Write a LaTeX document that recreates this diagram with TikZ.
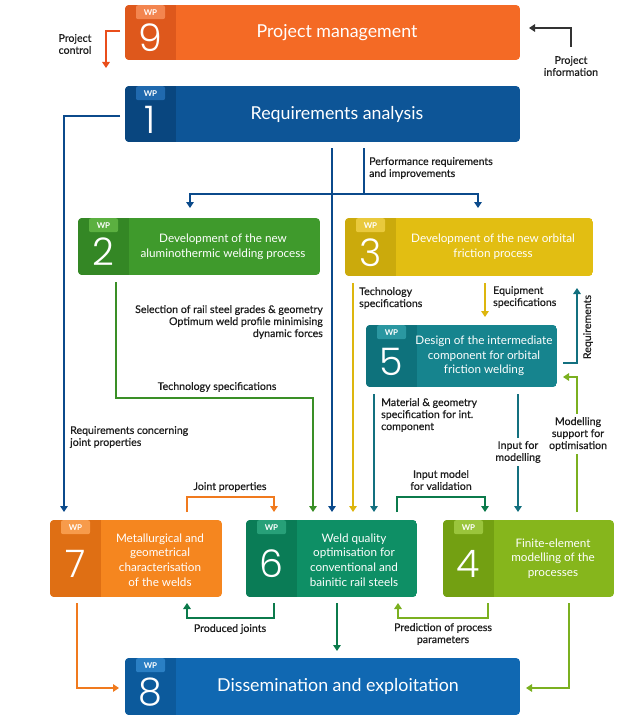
\documentclass[tikz,border=0pt]{standalone}
\usepackage{fontspec}
\setmainfont{Lato}
\newfontfamily\numfont{Poppins Light}
\newfontfamily\lblfont{Lato}[FakeBold=0.5]
\usetikzlibrary{arrows.meta}
\definecolor{m9}{HTML}{F46A25}\definecolor{s9}{HTML}{DE581C}\definecolor{t9}{HTML}{F3854F}
\definecolor{m1}{HTML}{0D5597}\definecolor{s1}{HTML}{09467F}\definecolor{t1}{HTML}{2069AE}
\definecolor{m2}{HTML}{3F9A2C}\definecolor{s2}{HTML}{348725}\definecolor{t2}{HTML}{5BB040}
\definecolor{m3}{HTML}{E2BE12}\definecolor{s3}{HTML}{CBAA0C}\definecolor{t3}{HTML}{E9C93C}
\definecolor{m5}{HTML}{16848E}\definecolor{s5}{HTML}{0E727C}\definecolor{t5}{HTML}{2A97A1}
\definecolor{m7}{HTML}{F5861F}\definecolor{s7}{HTML}{DF6F14}\definecolor{t7}{HTML}{F79B4B}
\definecolor{m6}{HTML}{0E8F65}\definecolor{s6}{HTML}{0A7C56}\definecolor{t6}{HTML}{27A078}
\definecolor{m4}{HTML}{86B61C}\definecolor{s4}{HTML}{73A012}\definecolor{t4}{HTML}{9AC53C}
\definecolor{m8}{HTML}{1068B2}\definecolor{s8}{HTML}{0C5A9C}\definecolor{t8}{HTML}{2A7FC4}
\definecolor{cred}{HTML}{E94E1B}
\definecolor{cdark}{HTML}{333333}
\definecolor{cblue}{HTML}{0B4A8B}
\definecolor{cgreen}{HTML}{3A8F26}
\definecolor{cyellow}{HTML}{DDB60E}
\definecolor{cteal}{HTML}{13707F}
\definecolor{clgreen}{HTML}{7BB020}
\definecolor{cdgreen}{HTML}{0B7A4B}
\definecolor{corange}{HTML}{F07A1E}
\definecolor{ctext}{HTML}{1E1E1E}
\tikzset{
  boxnode/.style={inner sep=0pt, outer sep=0pt},
  wptag/.style={inner sep=0pt, minimum width=29pt, minimum height=14pt, rounded corners=2pt,
    text=white, font=\fontsize{8}{8}\selectfont\bfseries, anchor=north},
  wpnum/.style={inner sep=0pt, text=white, font=\numfont\fontsize{38}{38}\selectfont},
  wptitle/.style={inner sep=0pt, text=white, font=\fontsize{17.8}{20}\selectfont},
  wptext/.style={inner sep=0pt, text=white, align=center, font=\fontsize{11.7}{14.7}\selectfont},
  lbl/.style={inner sep=0pt, text=ctext, font=\lblfont\fontsize{10.6}{12}\selectfont},
  lblw/.style={lbl, fill=white, inner sep=3pt},
  conn/.style={line width=1.8pt},
  arr/.style={conn, -{Triangle[width=7.5pt,length=6pt]}},
}
\newcommand\wpbox[9]{%
  \begin{scope}
    \clip[rounded corners=4pt] (#2,#3) rectangle ++(#4,#5);
    \fill[m#6] (#2,#3) rectangle ++(#4,#5);
    \fill[s#6] (#2,#3) rectangle ++(51,#5);
  \end{scope}
  \node[boxnode, minimum width=#4pt, minimum height=#5pt, anchor=north west] (#1) at (#2,#3) {};
  \node[wptag, fill=t#6] (#1tag) at ([xshift=25.5pt]#1.north west) {WP};
  \node[wpnum] (#1num) at ([xshift=25.5pt,yshift=-5.5pt]#1.west) {#7};
  \node[#8] (#1txt) at ([xshift=#9pt]#1.west) {\strut};
}
\begin{document}
\begin{tikzpicture}[x=1pt,y=-1pt]
\useasboundingbox (0,0) rectangle (641,717);
\fill[white] (0,0) rectangle (641,717);

% boxes
\wpbox{wp9}{125}{5}{395}{55}{9}{9}{boxnode}{212}
\node[wptitle] (wp9t) at ([xshift=212pt]wp9.west) {Project management};
\wpbox{wp1}{125}{86}{395}{56}{1}{1}{boxnode}{212}
\node[wptitle] (wp1t) at ([xshift=212pt]wp1.west) {Requirements analysis};
\wpbox{wp2}{78}{218}{242}{57}{2}{2}{boxnode}{145}
\node[wptext] (wp2t) at ([xshift=145pt,yshift=-0.5pt]wp2.west) {Development of the new\\aluminothermic welding process};
\wpbox{wp3}{345}{218}{248}{58}{3}{3}{boxnode}{148}
\node[wptext] (wp3t) at ([xshift=148pt]wp3.west) {Development of the new orbital\\friction process};
\wpbox{wp5}{366}{325}{191}{62}{5}{5}{boxnode}{118}
\node[wptext] (wp5t) at ([xshift=118pt]wp5.west) {Design of the intermediate\\component for orbital\\friction welding};
\wpbox{wp7}{50}{520}{172}{77}{7}{7}{boxnode}{110}
\node[wptext] (wp7t) at ([xshift=110pt,yshift=-1.5pt]wp7.west) {Metallurgical and\\geometrical\\characterisation\\of the welds};
\wpbox{wp6}{246}{520}{171}{77}{6}{6}{boxnode}{108}
\node[wptext] (wp6t) at ([xshift=108pt,yshift=-1.5pt]wp6.west) {Weld quality\\optimisation for\\conventional and\\bainitic rail steels};
\wpbox{wp4}{443}{520}{171}{77}{4}{4}{boxnode}{110}
\node[wptext] (wp4t) at ([xshift=110pt]wp4.west) {Finite-element\\modelling of the\\processes};
\wpbox{wp8}{125}{658}{395}{57}{8}{8}{boxnode}{213}
\node[wptitle] (wp8t) at ([xshift=213pt]wp8.west) {Dissemination and exploitation};

% free ends and bend points
\coordinate (pc) at (106,68);
\coordinate (pinfo) at (571,47);
\coordinate (split) at (364,194);
\coordinate (g1) at (200,398);
\coordinate (jp) at (230,497);
\coordinate (im) at (441,497);
\coordinate (pj) at (230,618);
\coordinate (pp) at (443,618);

% connectors
\draw[arr, cred, shorten <=5pt] (wp9.west |- 0,31) -| (pc);
\draw[arr, cdark, shorten >=9pt] (pinfo) |- (wp9.east |- 0,28);
\draw[arr, cblue, shorten <=5pt, shorten >=8pt] (wp1.west |- 0,116) -| (wp7.north -| 64,0);
\draw[arr, cblue, shorten <=6pt, shorten >=8pt] (wp1.south -| 332,0) -- (wp6.north -| 332,0);
\draw[conn, cblue, shorten <=6pt] (wp1.south -| 364,0) -- (split);
\draw[arr, cblue, shorten >=10pt] (split) -| (wp2.north -| 190,0);
\draw[arr, cblue, shorten >=10pt] (split) -| (wp3.north -| 478,0);
\draw[arr, cgreen, shorten <=7pt, shorten >=8pt] (wp2.south -| 116,0) |- (g1) -| (wp6.north -| 313,0);
\draw[arr, cyellow, shorten <=7pt, shorten >=8pt] (wp3.south -| 353,0) -- (wp6.north -| 353,0);
\draw[arr, cyellow, shorten <=7pt, shorten >=8pt] (wp3.south -| 485,0) -- (wp5.north -| 485,0);
\draw[arr, cteal, shorten <=6pt, shorten >=12pt] (wp5.east |- 0,363) -| (wp3.south -| 577,0);
\draw[arr, clgreen, shorten <=8pt, shorten >=6pt] (wp4.north -| 577,0) |- (wp5.east |- 0,377);
\draw[arr, cteal, shorten <=7pt, shorten >=8pt] (wp5.south -| 374,0) -- (wp6.north -| 374,0);
\draw[arr, cteal, shorten <=7pt, shorten >=8pt] (wp5.south -| 518,0) -- (wp4.north -| 518,0);
\draw[arr, corange, shorten <=8pt, shorten >=8pt] (wp7.north -| 187,0) |- (jp) -| (wp6.north -| 274,0);
\draw[arr, cdgreen, shorten <=8pt, shorten >=8pt] (wp6.north -| 397,0) |- (im) -| (wp4.north -| 485,0);
\draw[arr, cdgreen, shorten <=6pt, shorten >=6pt] (wp6.south -| 274,0) |- (pj) -| (wp7.south -| 187,0);
\draw[arr, cdgreen, shorten <=6pt, shorten >=7pt] (wp6.south -| 337,0) -- (wp8.north -| 337,0);
\draw[arr, clgreen, shorten <=6pt, shorten >=6pt] (wp4.south -| 488,0) |- (pp) -| (wp6.south -| 398,0);
\draw[arr, corange, shorten <=6pt, shorten >=6pt] (wp7.south -| 77,0) |- (wp8.west |- 0,688);
\draw[arr, clgreen, shorten <=6pt, shorten >=6pt] (wp4.south -| 569,0) |- (wp8.east |- 0,688);

% labels
\node[lbl, align=center] (lpc) at (75,44) {Project\\control};
\node[lbl, align=center] (lpi) at (571,66) {Project\\information};
\node[lbl, align=left, anchor=west] (lperf) at (369,168) {Performance requirements\\and improvements};
\node[lbl, align=right, anchor=east] (lsel) at (323,322) {Selection of rail steel grades \& geometry\\Optimum weld profile minimising\\dynamic forces};
\node[lbl] (ltech2) at (217,387) {Technology specifications};
\node[lbl, align=left, anchor=west] (ltech3) at (359,298) {Technology\\specifications};
\node[lbl, align=left, anchor=west] (lequip) at (493,297) {Equipment\\specifications};
\node[lbl, rotate=90] (lreq) at (588,327) {Requirements};
\node[lbl, align=left, anchor=west] (lmat) at (381,415) {Material \& geometry\\specification for int.\\component};
\node[lblw, align=center] (linput) at (518,452) {Input for\\modelling};
\node[lblw, align=center] (lmod) at (578,434) {Modelling\\support for\\optimisation};
\node[lbl, align=left, anchor=west] (lreqj) at (70,437) {Requirements concerning\\joint properties};
\node[lbl] (ljp) at (230,487) {Joint properties};
\node[lbl, align=center] (lim) at (441,480) {Input model\\for validation};
\node[lbl] (lpj) at (230,629) {Produced joints};
\node[lbl, align=center] (lpp) at (443,634) {Prediction of process\\parameters};
\end{tikzpicture}
\end{document}
